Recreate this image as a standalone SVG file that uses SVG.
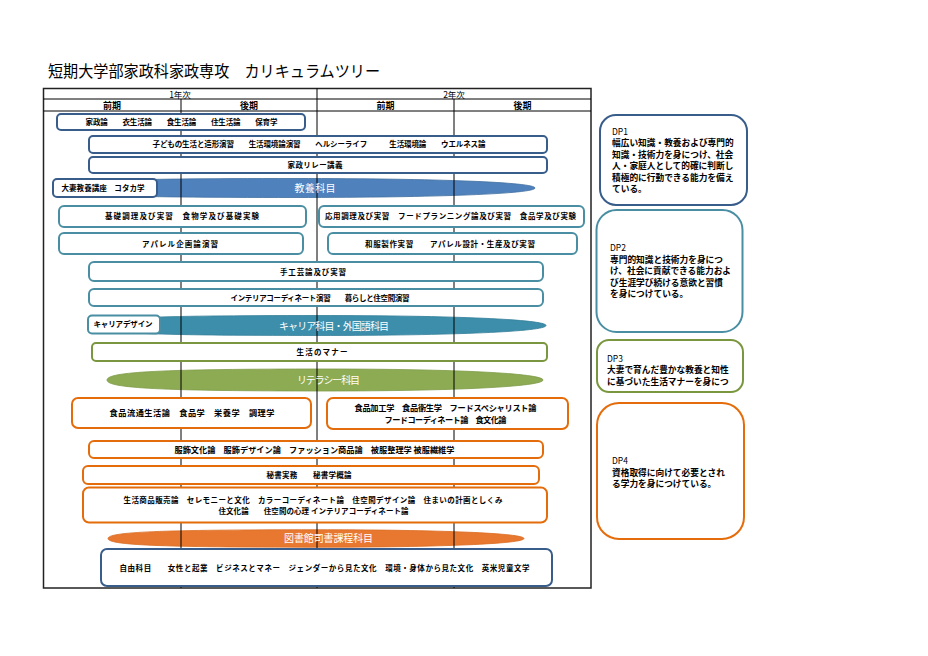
<svg xmlns="http://www.w3.org/2000/svg" width="928" height="656" viewBox="0 0 928 656">
<style>
text{font-family:"Noto Sans CJK JP","Noto Sans CJK SC",sans-serif;fill:#000}
.bt{font-size:7.5px;font-weight:bold;text-anchor:middle}
.b8{font-size:8.2px}
.bx{fill:#fff;stroke-width:2}
.blue{stroke:#385d8a}
.teal{stroke:#4a8ea3}
.green{stroke:#7a973f}
.orange{stroke:#e46c0a}
.et{font-size:10px;fill:#fff;text-anchor:middle}
.dl{font-size:8.5px}
.dt{font-size:8.7px;font-weight:bold}
.hd{font-size:8.5px;text-anchor:middle}
.hb{font-size:9px;font-weight:bold;text-anchor:middle}
#grid line{stroke:#000;stroke-width:1}
</style>
<rect x="0" y="0" width="928" height="656" fill="#fff"/>
<text x="48" y="77" font-size="16" textLength="332" lengthAdjust="spacingAndGlyphs">短期大学部家政科家政専攻　カリキュラムツリー</text>

<!-- bands -->
<g id="band-kyoyo">
<path d="M55,188 C55,180.9 115,178.5 295,178.5 C439,178.5 535,182.3 535,188 C535,193.7 439,197.5 295,197.5 C115,197.5 55,195.1 55,188 Z" fill="#4f81bd" stroke="#41709f" stroke-width="0.8"/>
</g>
<g id="band-career">
<path d="M90,325.5 C90,318 147,315.5 318,315.5 C454.8,315.5 546,319.5 546,325.5 C546,331.5 454.8,335.5 318,335.5 C147,335.5 90,333 90,325.5 Z" fill="#3c8eab" stroke="#357f99" stroke-width="0.8"/>
</g>
<g id="band-literacy">
<path d="M107,380 C107,371.75 161.5,369 325,369 C455.8,369 543,373.4 543,380 C543,386.6 455.8,391 325,391 C161.5,391 107,388.25 107,380 Z" fill="#8dab53" stroke="#7d9a47" stroke-width="0.8"/>
</g>
<g id="band-library">
<path d="M108,538.5 C108,531.9 160,529.75 316,529.75 C440.8,529.75 524,533.25 524,538.5 C524,543.75 440.8,547.25 316,547.25 C160,547.25 108,545.1 108,538.5 Z" fill="#e8782f" stroke="#d96c22" stroke-width="0.8"/>
</g>

<!-- table grid -->
<g id="grid">
<rect x="43.5" y="88.5" width="547.5" height="499.5" fill="none" stroke="#222" stroke-width="1.5"/>
<line x1="43.5" y1="99" x2="591" y2="99"/>
<line x1="43.5" y1="111" x2="591" y2="111"/>
<line x1="317" y1="88.5" x2="317" y2="588"/>
<line x1="181" y1="99" x2="181" y2="588"/>
<line x1="454" y1="99" x2="454" y2="588"/>
<text class="hd" x="180" y="97.5">1年次</text>
<text class="hd" x="454" y="97.5">2年次</text>
<text class="hb" x="112" y="109">前期</text>
<text class="hb" x="249" y="109">後期</text>
<text class="hb" x="385.5" y="109">前期</text>
<text class="hb" x="522.5" y="109">後期</text>
</g>

<g id="band-labels">
<text class="et" x="315" y="191.5" textLength="41">教養科目</text>
<text class="et" x="334" y="329.5" font-size="9.5" textLength="110">キャリア科目・外国語科目</text>
<text class="et" x="328.5" y="384" font-size="9.5" textLength="63">リテラシー科目</text>
<text class="et" x="328.5" y="542" textLength="89">図書館司書課程科目</text>
</g>

<g id="n1"><rect class="bx blue" x="57" y="114" width="248" height="16" rx="4"/>
<text class="bt" x="181.5" y="125.3" textLength="192">家政論　　衣生活論　　食生活論　　住生活論　　保育学</text></g>
<g id="n2"><rect class="bx blue" x="89" y="136" width="458" height="17" rx="4"/>
<text class="bt" x="319" y="147" textLength="333">子どもの生活と造形演習　　生活環境論演習　　ヘルシーライフ　　　生活環境論　　ウエルネス論</text></g>
<g id="n3"><rect class="bx blue" x="89" y="157" width="458" height="16" rx="4"/>
<text class="bt" x="315" y="167.5" textLength="55">家政リレー講義</text></g>
<g id="n4"><rect class="bx blue" x="53" y="179" width="104" height="18" rx="4"/>
<text class="bt" x="103" y="191" textLength="83">大妻教養講座　コタカ学</text></g>

<g id="n5"><rect class="bx teal" x="59" y="206" width="247" height="21" rx="5"/>
<text class="bt" x="182" y="219.3" font-size="8.5" textLength="154">基礎調理及び実習　食物学及び基礎実験</text></g>
<g id="n6"><rect class="bx teal" x="319" y="206" width="265" height="21" rx="5"/>
<text class="bt" x="450.5" y="219.3" font-size="8.5" textLength="251">応用調理及び実習　フードプランニング論及び実習　食品学及び実験</text></g>
<g id="n7"><rect class="bx teal" x="59" y="233" width="244" height="21" rx="5"/>
<text class="bt" x="180" y="247" font-size="8.5" textLength="76">アパレル企画論演習</text></g>
<g id="n8"><rect class="bx teal" x="328" y="233" width="249" height="21" rx="5"/>
<text class="bt" x="450" y="247" font-size="8.5" textLength="170">和服製作実習　　アパレル設計・生産及び実習</text></g>
<g id="n9"><rect class="bx teal" x="89" y="262" width="454" height="19" rx="5"/>
<text class="bt" x="313" y="274.8" font-size="8.3" textLength="66">手工芸論及び実習</text></g>
<g id="n10"><rect class="bx teal" x="89" y="289" width="454" height="17" rx="5"/>
<text class="bt" x="320" y="300.5" font-size="8" textLength="179">インテリアコーディネート演習　　暮らしと住空間演習</text></g>
<g id="n11"><rect class="bx teal" x="88" y="315.5" width="72" height="18" rx="4"/>
<text class="bt" x="123" y="327.3" textLength="59">キャリアデザイン</text></g>

<g id="n12"><rect class="bx green" x="92" y="343" width="455" height="18" rx="4"/>
<text class="bt" x="322" y="355" font-size="8.3" textLength="51">生活のマナー</text></g>

<g id="n13"><rect class="bx orange" x="72" y="398" width="239" height="30" rx="6"/>
<text class="bt b8" x="192" y="415.5" textLength="165">食品流通生活論　食品学　栄養学　調理学</text></g>
<g id="n14"><rect class="bx orange" x="327" y="398" width="241" height="31" rx="6"/>
<text class="bt b8" x="445.5" y="411" textLength="182">食品加工学　食品衛生学　フードスペシャリスト論</text>
<text class="bt b8" x="445.5" y="422.5" textLength="122">フードコーディネート論　食文化論</text></g>
<g id="n15"><rect class="bx orange" x="89" y="441" width="454" height="17" rx="5"/>
<text class="bt b8" x="314.5" y="452.5" textLength="280">服飾文化論　服飾デザイン論　ファッション商品論　被服整理学 被服繊維学</text></g>
<g id="n16"><rect class="bx orange" x="83" y="466" width="456" height="18" rx="5"/>
<text class="bt" x="309" y="478" font-size="8" textLength="85">秘書実務　　秘書学概論</text></g>
<g id="n17"><rect class="bx orange" x="83" y="487.5" width="464" height="35" rx="6"/>
<text class="bt" x="313" y="503" font-size="8" textLength="379">生活商品販売論　セレモニーと文化　カラーコーディネート論　住空間デザイン論　住まいの計画としくみ</text>
<text class="bt" x="313.5" y="514.3" font-size="8" textLength="190">住文化論　　住空間の心理 インテリアコーディネート論</text></g>

<g id="n18"><rect class="bx blue" x="101" y="549" width="451" height="37" rx="6"/>
<text class="bt" x="324.5" y="570.5" font-size="8" textLength="410">自由科目　　女性と起業　ビジネスとマネー　ジェンダーから見た文化　環境・身体から見た文化　英米児童文学</text></g>

<g id="dp1"><rect class="bx blue" x="600" y="115" width="147" height="90" rx="16"/>
<text class="dl" x="612" y="134.5">DP1</text>
<text class="dt" x="612" y="146">幅広い知識・教養および専門的</text>
<text class="dt" x="612" y="157.5">知識・技術力を身につけ、社会</text>
<text class="dt" x="612" y="169">人・家庭人として的確に判断し</text>
<text class="dt" x="612" y="180.5">積極的に行動できる能力を備え</text>
<text class="dt" x="612" y="192">ている。</text></g>
<g id="dp2"><rect class="bx teal" x="596.5" y="210" width="146" height="122" rx="20"/>
<text class="dl" x="610" y="251">DP2</text>
<text class="dt" x="610" y="262.5">専門的知識と技術力を身につ</text>
<text class="dt" x="610" y="274">け、社会に貢献できる能力およ</text>
<text class="dt" x="610" y="285.5">び生涯学び続ける意欲と習慣</text>
<text class="dt" x="610" y="297">を身につけている。</text></g>
<g id="dp3"><rect class="bx green" x="597" y="340" width="146" height="52" rx="12"/>
<text class="dl" x="607" y="361.5">DP3</text>
<text class="dt" x="607" y="373">大妻で育んだ豊かな教養と知性</text>
<text class="dt" x="607" y="384.5">に基づいた生活マナーを身につ</text></g>
<g id="dp4"><rect class="bx orange" x="597" y="403" width="147" height="136" rx="22"/>
<text class="dl" x="612" y="464">DP4</text>
<text class="dt" x="612" y="475.5">資格取得に向けて必要とされ</text>
<text class="dt" x="612" y="487">る学力を身につけている。</text></g>
</svg>
